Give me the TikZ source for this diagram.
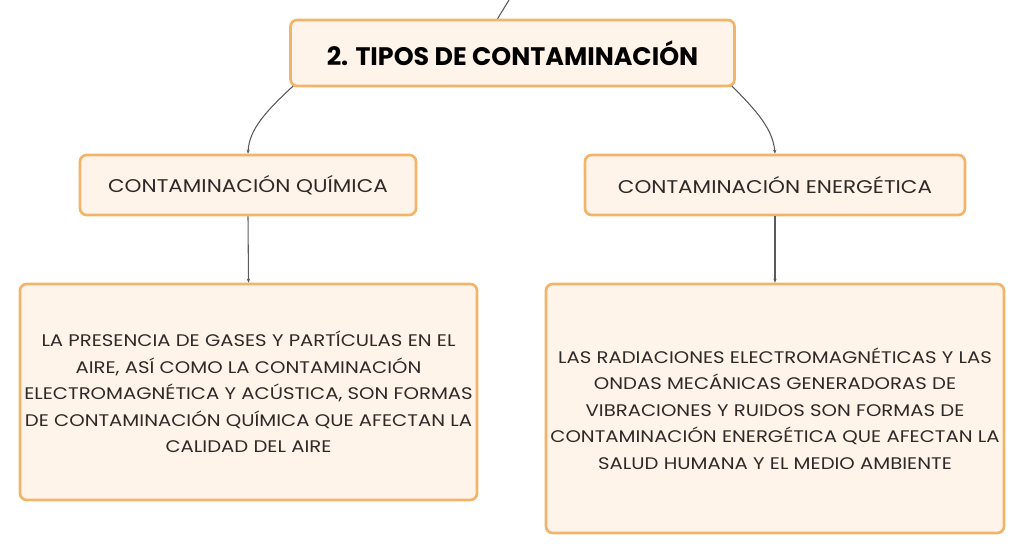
\documentclass[tikz,border=0pt]{standalone}
\usepackage{fontspec}
\setmainfont{Poppins}
\newfontfamily\widefont[FakeStretch=1.17]{Poppins}
\usetikzlibrary{arrows.meta}
\definecolor{boxfill}{HTML}{FFF4E9}
\definecolor{boxline}{HTML}{F2B46A}
\definecolor{txt}{HTML}{2E2A28}
\definecolor{wire}{HTML}{5A5A5E}
\tikzset{
  box/.style={draw=boxline, line width=2pt, fill=boxfill, rounded corners=5pt, inner sep=0pt, align=center, text=txt},
  wirestyle/.style={draw=wire, line width=0.8pt, -{Stealth[length=3pt,width=2.5pt]}}
}
\begin{document}
\begin{tikzpicture}[x=0.75pt,y=-0.75pt]
\useasboundingbox (0,0) rectangle (1024,552);
\node[box, minimum width=444*0.75pt, minimum height=66*0.75pt, font=\fontsize{19}{22}\selectfont\bfseries, text=black] (top) at (512.5,53) {2. TIPOS DE CONTAMINACIÓN};
\node[box, minimum width=336*0.75pt, minimum height=60*0.75pt, font=\widefont\fontsize{13.8}{15}\selectfont] (q) at (248,185) {CONTAMINACIÓN QUÍMICA};
\node[box, minimum width=380*0.75pt, minimum height=60*0.75pt, font=\widefont\fontsize{13.8}{15}\selectfont] (e) at (775,185) {CONTAMINACIÓN ENERGÉTICA};
\node[box, minimum width=457*0.75pt, minimum height=216*0.75pt, font=\widefont\fontsize{12.6}{19.9}\selectfont] (qt) at (248.5,392) {LA PRESENCIA DE GASES Y PARTÍCULAS EN EL\\AIRE, ASÍ COMO LA CONTAMINACIÓN\\ELECTROMAGNÉTICA Y ACÚSTICA, SON FORMAS\\DE CONTAMINACIÓN QUÍMICA QUE AFECTAN LA\\CALIDAD DEL AIRE};
\node[box, minimum width=458*0.75pt, minimum height=249*0.75pt, font=\widefont\fontsize{12.6}{19.9}\selectfont] (et) at (775,408.5) {LAS RADIACIONES ELECTROMAGNÉTICAS Y LAS\\ONDAS MECÁNICAS GENERADORAS DE\\VIBRACIONES Y RUIDOS SON FORMAS DE\\CONTAMINACIÓN ENERGÉTICA QUE AFECTAN LA\\SALUD HUMANA Y EL MEDIO AMBIENTE};
\coordinate (up) at (509,0);
\draw[draw=wire, line width=0.8pt] (up) -- ([xshift=-11.2pt]top.north);
\draw[wirestyle] ([xshift=3pt,yshift=1pt]top.south west) .. controls (265,112) and (249,130) .. (q.north);
\draw[wirestyle] ([xshift=-3pt,yshift=1pt]top.south east) .. controls (758,112) and (773,130) .. (e.north);
\draw[wirestyle] (q.south) -- (qt.north);
\draw[wirestyle] (e.south) -- (et.north);
\end{tikzpicture}
\end{document}
